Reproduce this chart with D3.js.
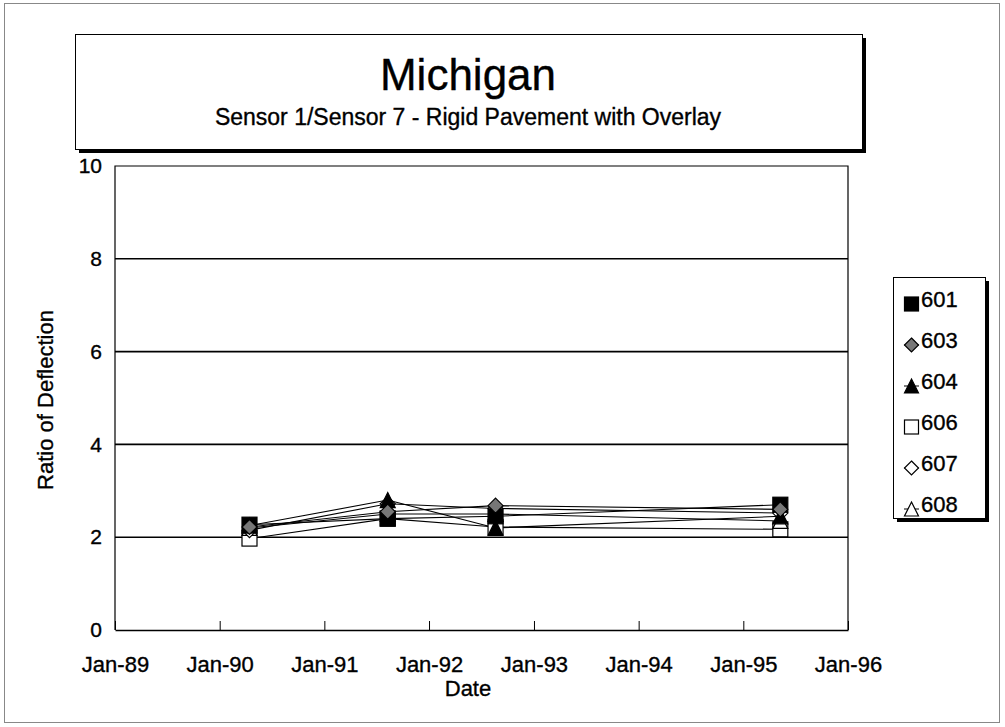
<!DOCTYPE html>
<html><head><meta charset="utf-8">
<script src="https://cdn.jsdelivr.net/npm/d3@7"></script>
<style>
body{margin:0;background:#fff;}
svg{display:block;font-family:"Liberation Sans",Arial,sans-serif;}
text{fill:#000;stroke:#000;stroke-width:0.35px;}
</style></head><body>
<svg id="c" width="1005" height="727"></svg>
<script>
const title = "Michigan";
const subtitle = "Sensor 1/Sensor 7 - Rigid Pavement with Overlay";
const xLabel = "Date";
const yLabel = "Ratio of Deflection";
const dates = ["1990-04-15","1991-08-10","1992-08-20","1995-05-10"];
const seriesNames = ["601","603","604","606","607","608"];
const s601 = [2.27, 2.40, 2.45, 2.70];
const s603 = [2.22, 2.55, 2.68, 2.60];
const s604 = [2.25, 2.80, 2.20, 2.45];
const s606 = [1.97, 2.40, 2.22, 2.17];
const s607 = [2.15, 2.72, 2.62, 2.52];
const s608 = [2.20, 2.50, 2.50, 2.35];
const seriesValues = [s601, s603, s604, s606, s607, s608];
const markerTypes = ["squareFilled","diamondGray","triangleFilled","squareOpen","diamondOpen","triangleOpen"];
const xTickDates = ["1989-01-01","1990-01-01","1991-01-01","1992-01-01","1993-01-01","1994-01-01","1995-01-01","1996-01-01"];
const yTicks = [0,2,4,6,8,10];
const gridVals = [2,4,6,8];

const svg = d3.select("#c");
const parse = d3.timeParse("%Y-%m-%d");
const L = 115, R = 848, T = 166, B = 630;
const x = d3.scaleTime().domain([parse("1989-01-01"), parse("1996-01-01")]).range([L, R]);
const y = d3.scaleLinear().domain([0, 10]).range([B, T]);

// outer frame
svg.append("rect").attr("x",4.5).attr("y",3.5).attr("width",995).attr("height",719)
  .attr("fill","none").attr("stroke","#888").attr("stroke-width",1);

// title box with shadow
svg.append("rect").attr("x",79).attr("y",38).attr("width",787).attr("height",115).attr("fill","#000");
svg.append("rect").attr("x",75.5).attr("y",34.5).attr("width",787).attr("height",115)
  .attr("fill","#fff").attr("stroke","#000").attr("stroke-width",1);
svg.append("text").attr("x",468).attr("y",90).attr("text-anchor","middle")
  .attr("font-size",44).text(title);
svg.append("text").attr("x",468).attr("y",125).attr("text-anchor","middle")
  .attr("font-size",23).text(subtitle);

// grid lines
svg.append("g").selectAll("line").data(gridVals).join("line")
  .attr("x1",L).attr("x2",R).attr("y1",d=>y(d)).attr("y2",d=>y(d))
  .attr("stroke","#000").attr("stroke-width",1.6);

// plot border
svg.append("path").attr("d",`M${L},${B}V${T}H${R}V${B}`).attr("fill","none")
  .attr("stroke","#000").attr("stroke-width",1.2);

// x axis
const xAxis = d3.axisBottom(x).tickValues(xTickDates.map(parse))
  .tickFormat(d3.timeFormat("%b-%y")).tickSizeInner(-9).tickSizeOuter(0).tickPadding(26);
const gx = svg.append("g").attr("transform",`translate(0,${B})`).call(xAxis);
gx.select(".domain").attr("stroke","#000").attr("stroke-width",1.4);
gx.selectAll(".tick line").attr("stroke","#000");
gx.selectAll(".tick text").attr("font-size",22).attr("font-family","Liberation Sans, Arial, sans-serif");

// y axis labels
const yAxis = d3.axisLeft(y).tickValues(yTicks).tickSize(0).tickPadding(13);
const gy = svg.append("g").attr("transform",`translate(${L},0)`).call(yAxis);
gy.select(".domain").remove();
gy.selectAll(".tick text").attr("font-size",21).attr("font-family","Liberation Sans, Arial, sans-serif");

// axis titles
svg.append("text").attr("x",468).attr("y",696).attr("text-anchor","middle").attr("font-size",22).text(xLabel);
svg.append("text").attr("transform","translate(53,400) rotate(-90)").attr("text-anchor","middle")
  .attr("font-size",22).text(yLabel);

// lines
const line = d3.line().x((d,i)=>x(parse(dates[i]))).y(d=>y(d));
svg.append("g").selectAll("path").data(seriesValues).join("path")
  .attr("d",d=>line(d)).attr("fill","none").attr("stroke","#000").attr("stroke-width",1.1);

function drawMarker(g, type, cx, cy, s){
  const h = s/2;
  if(type.startsWith("square")){
    g.append("rect").attr("x",cx-h).attr("y",cy-h).attr("width",s).attr("height",s)
      .attr("fill", type==="squareFilled"?"#000":"#fff").attr("stroke","#000").attr("stroke-width",1.2);
  } else if(type.startsWith("diamond")){
    g.append("path").attr("d",`M${cx},${cy-h}L${cx+h},${cy}L${cx},${cy+h}L${cx-h},${cy}Z`)
      .attr("fill", type==="diamondGray"?"#777":"#fff").attr("stroke","#000").attr("stroke-width",1.2);
  } else {
    g.append("path").attr("d",`M${cx},${cy-h}L${cx+h},${cy+h}L${cx-h},${cy+h}Z`)
      .attr("fill", type==="triangleFilled"?"#000":"#fff").attr("stroke","#000").attr("stroke-width",1.2);
  }
}
const order = [3,5,4,0,2,1];
const gm = svg.append("g");
order.forEach(si=>{
  seriesValues[si].forEach((v,i)=>{
    drawMarker(gm, markerTypes[si], x(parse(dates[i])), y(v), 15);
  });
});

// legend
const lx = 893, ly = 277;
svg.append("rect").attr("x",lx+4).attr("y",ly+4).attr("width",92).attr("height",241).attr("fill","#000");
svg.append("rect").attr("x",lx+0.5).attr("y",ly+0.5).attr("width",92).attr("height",241)
  .attr("fill","#fff").attr("stroke","#000").attr("stroke-width",1);
const lg = svg.append("g");
seriesNames.forEach((n,i)=>{
  const cy = ly + 24 + i*41;
  lg.append("line").attr("x1",lx+11).attr("x2",lx+26).attr("y1",cy+3).attr("y2",cy+3).attr("stroke","#000");
  drawMarker(lg, markerTypes[i], lx+18.5, cy+3, 14);
  lg.append("text").attr("x",lx+28).attr("y",cy+6).attr("font-size",22).text(n);
});
</script></body></html>
